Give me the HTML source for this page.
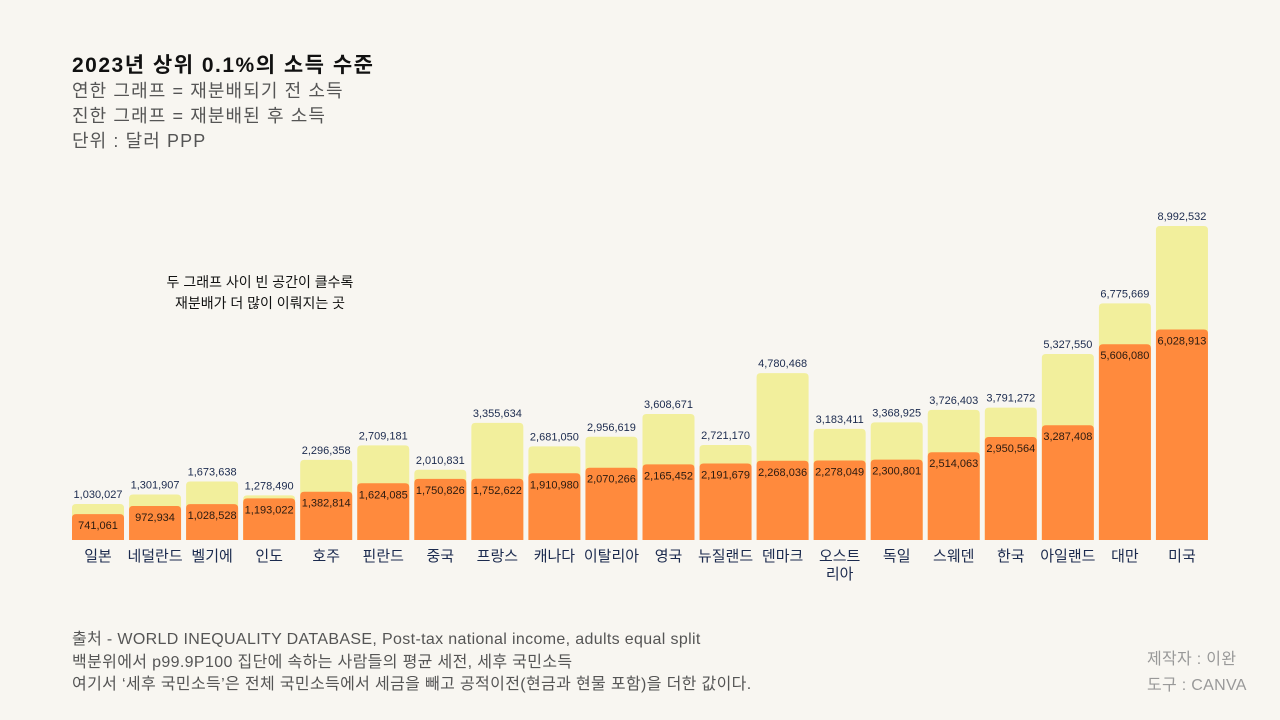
<!DOCTYPE html>
<html><head><meta charset="utf-8">
<style>
body{margin:0;width:1280px;height:720px;background:#f8f6f1;font-family:"Liberation Sans","Noto Sans CJK KR",sans-serif;overflow:hidden;position:relative}
.t{position:absolute;white-space:nowrap}
</style></head>
<body>
<div class="t" style="left:72px;top:49px;font-size:21px;font-weight:bold;color:#111;letter-spacing:1.5px">2023년 상위 0.1%의 소득 수준</div>
<div class="t" style="left:72px;top:77px;font-size:18px;color:#555;letter-spacing:1.1px">연한 그래프 = 재분배되기 전 소득</div>
<div class="t" style="left:72px;top:102px;font-size:18px;color:#555;letter-spacing:1.1px">진한 그래프 = 재분배된 후 소득</div>
<div class="t" style="left:72px;top:127px;font-size:18px;color:#555;letter-spacing:1.1px">단위 : 달러 PPP</div>
<div class="t" style="left:150px;top:272px;width:220px;text-align:center;font-size:14px;line-height:21px;color:#111">두 그래프 사이 빈 공간이 클수록<br>재분배가 더 많이 이뤄지는 곳</div>
<svg id="chart" width="1280" height="720" style="position:absolute;left:0;top:0"></svg>
<div class="t" style="left:72px;top:629px;font-size:16px;line-height:22.5px;color:#555;letter-spacing:0.35px">출처 - WORLD INEQUALITY DATABASE, Post-tax national income, adults equal split<br>백분위에서 p99.9P100 집단에 속하는 사람들의 평균 세전, 세후 국민소득<br>여기서 ‘세후 국민소득’은 전체 국민소득에서 세금을 빼고 공적이전(현금과 현물 포함)을 더한 값이다.</div>
<div class="t" style="left:1147px;top:647px;font-size:16px;line-height:26px;color:#999;letter-spacing:0.3px">제작자 : 이완<br>도구 : CANVA</div>
<script>
const categories=["일본","네덜란드","벨기에","인도","호주","핀란드","중국","프랑스","캐나다","이탈리아","영국","뉴질랜드","덴마크","오스트\n리아","독일","스웨덴","한국","아일랜드","대만","미국"];
const pretax=[1030027,1301907,1673638,1278490,2296358,2709181,2010831,3355634,2681050,2956619,3608671,2721170,4780468,3183411,3368925,3726403,3791272,5327550,6775669,8992532];
const posttax=[741061,972934,1028528,1193022,1382814,1624085,1750826,1752622,1910980,2070266,2165452,2191679,2268036,2278049,2300801,2514063,2950564,3287408,5606080,6028913];
const svg=document.getElementById('chart');const NS='http://www.w3.org/2000/svg';
const base=540,pxPerUnit=314/8992532,x0=72,step=57.05,bw=52;
const y=v=>base-v*pxPerUnit;const x=i=>x0+i*step;
const fmt=v=>v.toLocaleString('en-US');
function mk(tag,attrs){const e=document.createElementNS(NS,tag);for(const k in attrs)e.setAttribute(k,attrs[k]);svg.appendChild(e);return e;}
function bar(i,v,fill){const top=y(v);const e=mk('path',{d:`M${x(i)},${base}V${top+4}Q${x(i)},${top} ${x(i)+4},${top}H${x(i)+bw-4}Q${x(i)+bw},${top} ${x(i)+bw},${top+4}V${base}Z`,fill:fill});return e;}
categories.forEach((c,i)=>{
 const b1=bar(i,pretax[i],'#f2ef9c');
 
 
 const b2=bar(i,posttax[i],'#ff8a3d');
 
 
 const l1=mk('text',{x:x(i)+bw/2,y:y(pretax[i])-6,'text-anchor':'middle','font-size':'11',fill:'#1b2a4e'});l1.textContent=fmt(pretax[i]);
 
 
 const l2=mk('text',{x:x(i)+bw/2,y:y(posttax[i])+15,'text-anchor':'middle','font-size':'11',fill:'#2a1a10'});l2.textContent=fmt(posttax[i]);
 
 
 const parts=c.split('\n');
 parts.forEach((p,j)=>{const t=mk('text',{x:x(i)+bw/2,y:561+j*18,'text-anchor':'middle','font-size':'15',fill:'#1b2a4e'});t.textContent=p;
 
 });
});
</script>
</body></html>
